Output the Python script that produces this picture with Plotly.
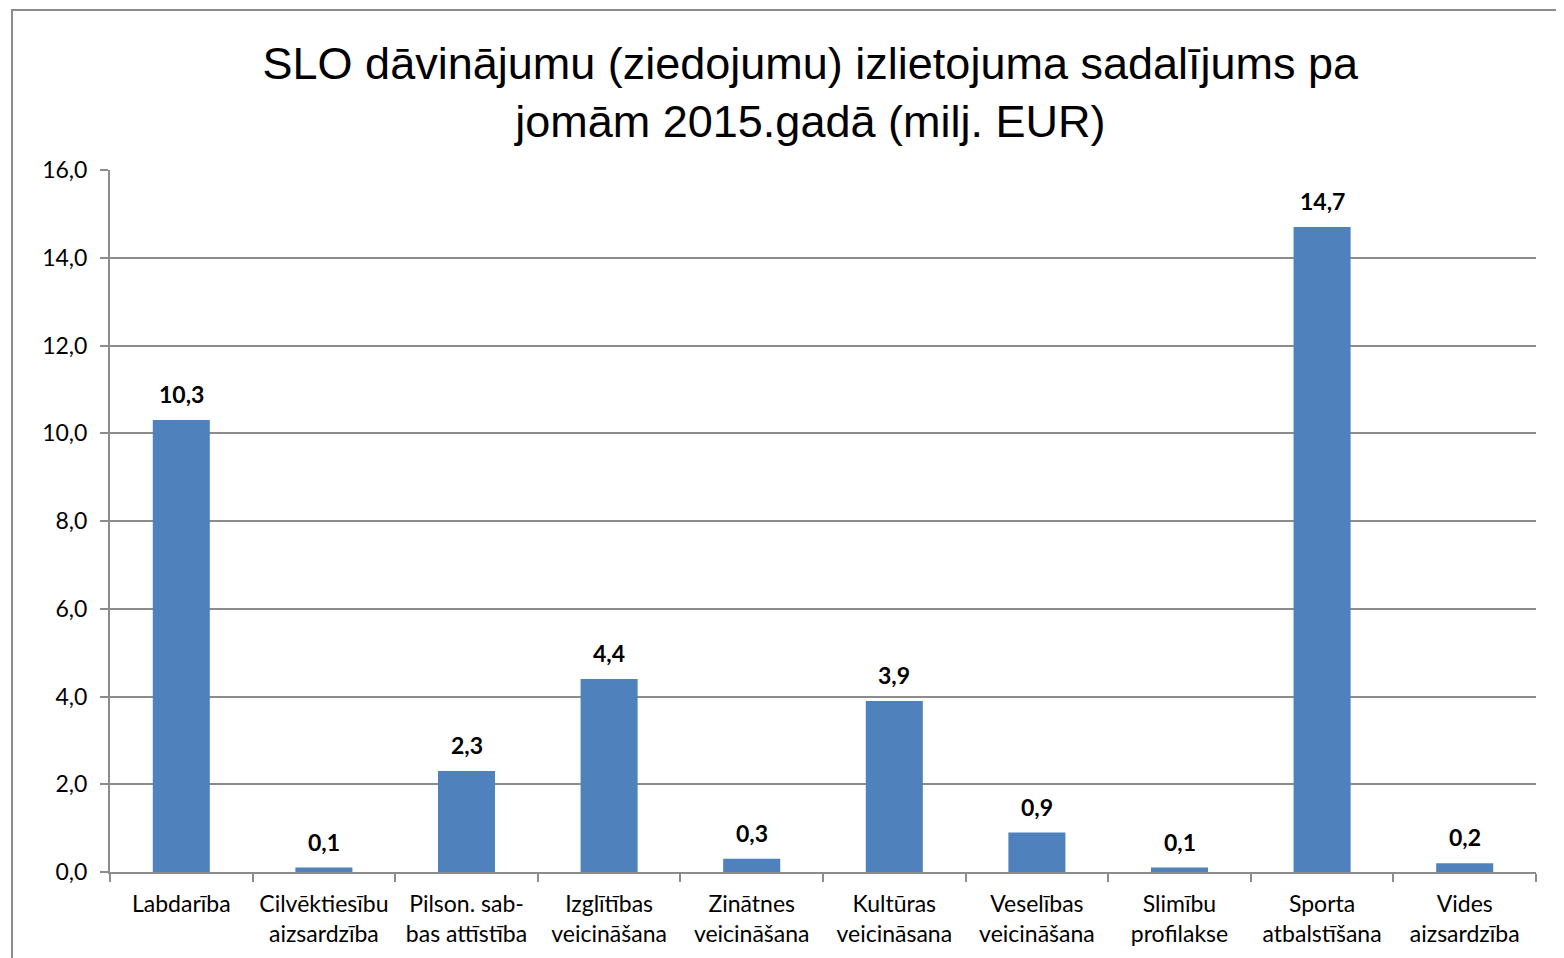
import plotly.graph_objects as go

categories = [
    "Labdarība",
    "Cilvēktiesību<br>aizsardzība",
    "Pilson. sab-<br>bas attīstība",
    "Izglītības<br>veicināšana",
    "Zinātnes<br>veicināšana",
    "Kultūras<br>veicināsana",
    "Veselības<br>veicināšana",
    "Slimību<br>profilakse",
    "Sporta<br>atbalstīšana",
    "Vides<br>aizsardzība",
]
values = [10.3, 0.1, 2.3, 4.4, 0.3, 3.9, 0.9, 0.1, 14.7, 0.2]
y_ticks = [0, 2, 4, 6, 8, 10, 12, 14, 16]

title = "SLO dāvinājumu (ziedojumu) izlietojuma sadalījums pa<br>jomām 2015.gadā (milj. EUR)"

fig = go.Figure()
fig.add_trace(go.Bar(
    x=categories, y=values,
    marker=dict(color="#4F81BD", line=dict(width=0)),
    hoverinfo="x+y",
))

# value labels sitting a bit above each bar
for cat, val in zip(categories, values):
    fig.add_annotation(x=cat, y=val, text=f"{val:.1f}".replace(".", ","),
                       showarrow=False, yanchor="bottom", yshift=10,
                       font=dict(family="Lato", size=23, color="black", weight="bold"))

grid = "#8c8c8c"
fig.update_xaxes(type="category", showline=True, linecolor=grid, linewidth=2,
                 ticks="outside", tickson="boundaries", ticklen=8, tickcolor=grid, tickwidth=2,
                 tickfont=dict(family="Lato", size=23, color="black"),
                 ticklabelstandoff=10,
                 showgrid=False)
fig.update_yaxes(range=[0, 16], tickvals=y_ticks, tickformat=".1f",
                 showline=True, linecolor=grid, linewidth=2,
                 ticks="outside", ticklen=8, tickcolor=grid, tickwidth=2,
                 tickfont=dict(family="Lato", size=23, color="black"),
                 ticklabelstandoff=8,
                 showgrid=True, gridcolor=grid, gridwidth=2, zeroline=False)

# outer chart frame
fig.add_shape(type="rect", xref="paper", yref="paper",
              x0=-0.0687, x1=1.1, y0=-0.3, y1=1.228,
              line=dict(color="#8c8c8c", width=2), layer="below")

fig.update_layout(
    width=1564, height=958,
    margin=dict(l=102, r=36, t=162, b=94),
    plot_bgcolor="white", paper_bgcolor="white",
    separators=",.",
    bargap=0.6,
    showlegend=False,
    title=dict(text=title, x=0.513, xanchor="center", y=0.926, yanchor="middle",
               yref="container",
               font=dict(family="Liberation Sans", size=45, color="black")),
)

fig.write_html("out.html")
